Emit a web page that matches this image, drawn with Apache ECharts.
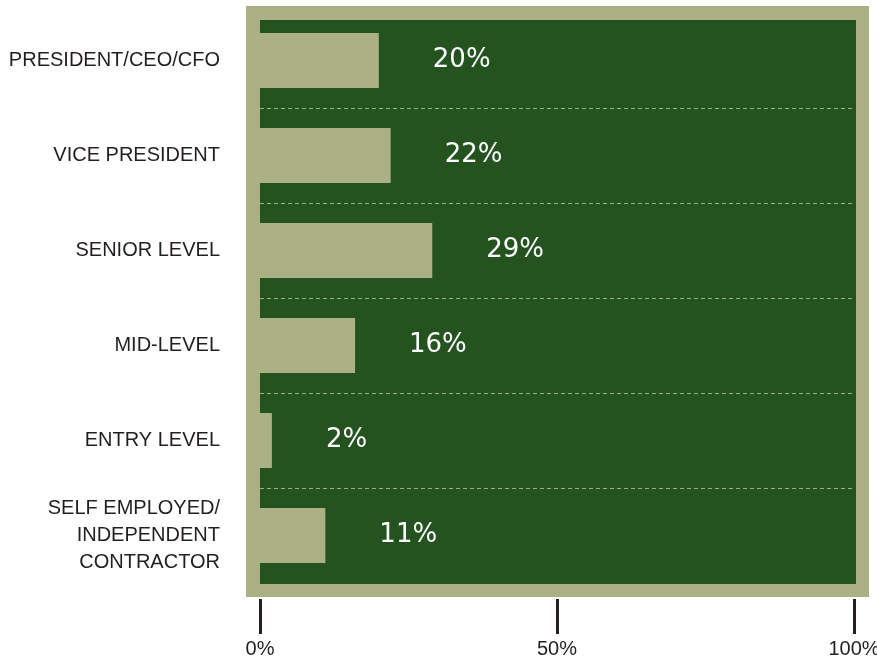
<!DOCTYPE html>
<html>
<head>
<meta charset="utf-8">
<script src="https://cdn.jsdelivr.net/npm/echarts@6/dist/echarts.min.js"></script>
<style>
  html, body { margin: 0; padding: 0; background: #ffffff; }
  #chart { width: 877px; height: 662px; }
</style>
</head>
<body>
<div id="chart"></div>
<script>
// Job level breakdown (percent of respondents)
const categories = [
  'PRESIDENT/CEO/CFO',
  'VICE PRESIDENT',
  'SENIOR LEVEL',
  'MID-LEVEL',
  'ENTRY LEVEL',
  'SELF EMPLOYED/\nINDEPENDENT\nCONTRACTOR'
];
const shares = [20, 22, 29, 16, 2, 11];
const xTicks = [0, 50, 100];

const KHAKI = '#abb185';
const GREEN = '#245320';
const INK = '#231f20';

const chart = echarts.init(document.getElementById('chart'), null, { renderer: 'canvas' });

chart.setOption({
  backgroundColor: '#ffffff',
  animation: false,
  graphic: [
    // khaki frame
    { type: 'rect', z: -20, silent: true,
      shape: { x: 246, y: 6, width: 623, height: 591 },
      style: { fill: KHAKI } },
    // dark green panel
    { type: 'rect', z: -10, silent: true,
      shape: { x: 260, y: 20, width: 596, height: 564 },
      style: { fill: GREEN } }
  ],
  grid: {
    left: 260, right: 23, top: 13, bottom: 79,
    containLabel: false,
    outerBoundsMode: 'none'
  },
  xAxis: {
    type: 'value',
    min: 0, max: 100, interval: 50,
    offset: 16,
    axisLine: { show: false },
    axisTick: { show: true, length: 35, lineStyle: { color: INK, width: 3 } },
    splitLine: { show: false },
    axisLabel: {
      margin: 40,
      verticalAlign: 'top',
      color: INK,
      fontFamily: 'Liberation Sans',
      fontSize: 20,
      lineHeight: 20,
      formatter: v => (xTicks.includes(v) ? v + '%' : '')
    }
  },
  yAxis: {
    type: 'category',
    inverse: true,
    data: categories.map((c, i) => i === categories.length - 1
      ? { value: c, textStyle: { padding: [40, 0, 0, 0] } }
      : c),
    axisLine: { show: false },
    axisTick: { show: false },
    splitLine: {
      show: true,
      showMinLine: false,
      showMaxLine: false,
      lineStyle: { color: '#a4aa80', width: 1, type: [4, 3] }
    },
    axisLabel: {
      margin: 40,
      color: INK,
      fontFamily: 'Liberation Sans',
      fontSize: 20,
      lineHeight: 27,
      align: 'right'
    }
  },
  series: [{
    type: 'bar',
    data: shares,
    barWidth: 55,
    itemStyle: { color: KHAKI },
    label: {
      show: true,
      position: 'right',
      distance: 54,
      color: '#ffffff',
      fontFamily: 'DejaVu Sans',
      fontSize: 26,
      formatter: p => p.value + '%'
    }
  }]
});
</script>
</body>
</html>
